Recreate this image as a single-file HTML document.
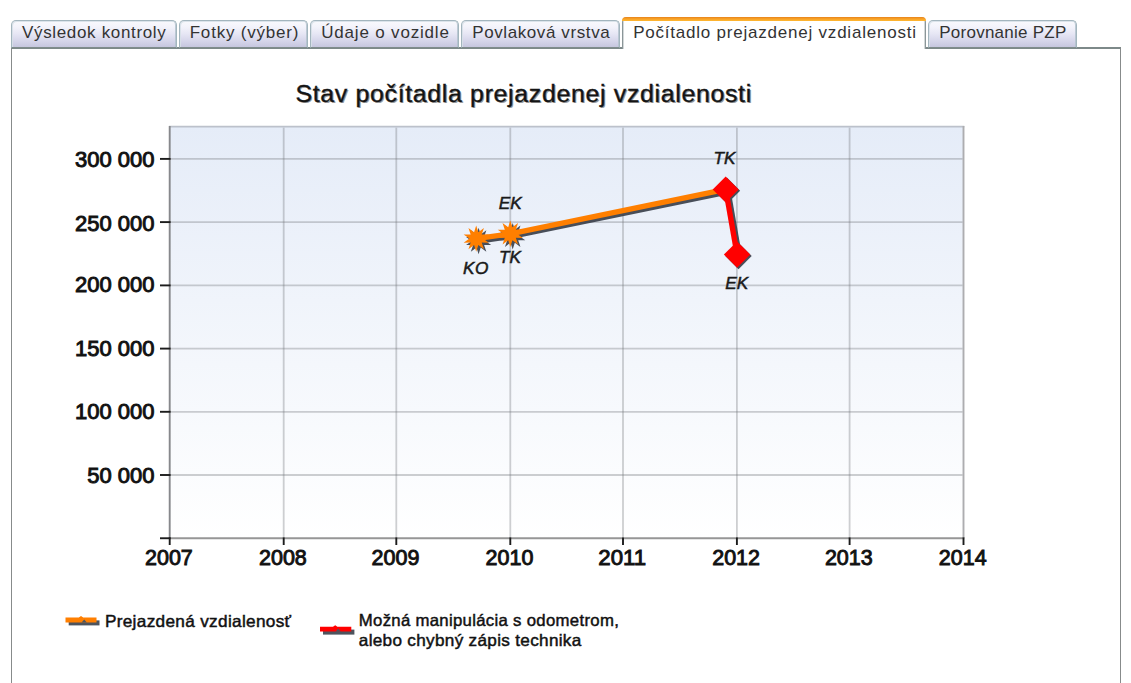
<!DOCTYPE html>
<html>
<head>
<meta charset="utf-8">
<title>Počítadlo prejazdenej vzdialenosti</title>
<style>
html,body{margin:0;padding:0;background:#fff;}
body{width:1131px;height:683px;position:relative;overflow:hidden;font-family:"Liberation Sans",sans-serif;}
.tab{position:absolute;top:20px;height:28px;box-sizing:border-box;border:1px solid #a3b5be;border-bottom:1px solid #7f8c8c;border-radius:5px 5px 0 0;
 background:linear-gradient(#f9f9fd 0px,#f3f3fb 6px,#e6e6f4 13px,#d5d5ea 20px,#c4c4dd 27px);
 box-shadow:inset 1px 1px 0 rgba(215,224,232,0.9), inset -1px 0 0 rgba(176,192,204,0.8);
 font-size:17px;color:#333;line-height:24px;white-space:nowrap;text-align:left;padding-left:10px;}
.tab.active{top:17px;height:32px;background:#fff;border:1px solid #8b9698;border-top:none;border-bottom:none;line-height:32px;color:#333;border-radius:5px 5px 0 0;box-shadow:inset 1px 0 0 rgba(200,206,208,0.8), inset -1px 0 0 rgba(200,206,208,0.8);}
.tab.active::before{content:"";position:absolute;left:-1px;right:-1px;top:0;height:4px;border-radius:5px 5px 0 0;background:linear-gradient(#e5831c,#f79d24 40%,#ffb932);}
.panel{position:absolute;left:11px;top:47px;width:1108px;height:700px;border:1px solid #878b8b;border-top:2px solid #7d8989;box-sizing:content-box;background:#fff;}
svg{position:absolute;left:0;top:0;}
</style>
</head>
<body>
<div class="panel"></div>
<div class="tab" style="left:11px;width:166px;letter-spacing:0.66px;padding-left:10px">Výsledok kontroly</div>
<div class="tab" style="left:179px;width:129px;letter-spacing:0.8px;padding-left:9.7px">Fotky (výber)</div>
<div class="tab" style="left:310px;width:149px;letter-spacing:0.82px;padding-left:10.2px">Údaje o vozidle</div>
<div class="tab" style="left:461px;width:159px;letter-spacing:0.6px;padding-left:10.2px">Povlaková vrstva</div>
<div class="tab active" style="left:622px;width:304px;letter-spacing:0.78px;padding-left:10.2px">Počítadlo prejazdenej vzdialenosti</div>
<div class="tab" style="left:928px;width:149px;letter-spacing:0.26px;padding-left:10.2px">Porovnanie PZP</div>

<svg width="1131" height="683" viewBox="0 0 1131 683">
 <defs>
  <linearGradient id="pg" x1="0" y1="0" x2="0" y2="1">
   <stop offset="0" stop-color="#e5ecf8"/>
   <stop offset="1" stop-color="#ffffff"/>
  </linearGradient>
 </defs>
 <!-- plot area -->
 <rect x="170" y="126" width="794" height="412" fill="url(#pg)"/>
 <!-- gridlines -->
 <g stroke="rgb(112,115,120)" stroke-opacity="0.34" stroke-width="1.8">
  <line x1="170.5" x2="962.7" y1="158.9" y2="158.9"/>
  <line x1="170.5" x2="962.7" y1="222.1" y2="222.1"/>
  <line x1="170.5" x2="962.7" y1="285.4" y2="285.4"/>
  <line x1="170.5" x2="962.7" y1="348.6" y2="348.6"/>
  <line x1="170.5" x2="962.7" y1="411.8" y2="411.8"/>
  <line x1="170.5" x2="962.7" y1="475.0" y2="475.0"/>
  <line y1="127.5" y2="537.4" x1="283.7" x2="283.7"/>
  <line y1="127.5" y2="537.4" x1="396.3" x2="396.3"/>
  <line y1="127.5" y2="537.4" x1="510.3" x2="510.3"/>
  <line y1="127.5" y2="537.4" x1="623.0" x2="623.0"/>
  <line y1="127.5" y2="537.4" x1="736.9" x2="736.9"/>
  <line y1="127.5" y2="537.4" x1="849.6" x2="849.6"/>
 </g>
 <!-- border -->
 <g stroke-width="1.9" fill="none">
  <line x1="169" x2="964.3" y1="126.6" y2="126.6" stroke="#bcc1cb"/>
  <line x1="963.5" x2="963.5" y1="126" y2="538" stroke="#adadb0"/>
  <line x1="169.7" x2="169.7" y1="126" y2="538" stroke="#87888c"/>
  <line x1="169" x2="964.3" y1="538.25" y2="538.25" stroke="#969696"/>
 </g>
 <!-- ticks -->
 <g stroke="#1c1c1c" stroke-width="1.9" stroke-linecap="butt">
  <line x1="160" x2="170.6" y1="158.9" y2="158.9"/>
  <line x1="160" x2="170.6" y1="222.1" y2="222.1"/>
  <line x1="160" x2="170.6" y1="285.4" y2="285.4"/>
  <line x1="160" x2="170.6" y1="348.6" y2="348.6"/>
  <line x1="160" x2="170.6" y1="411.8" y2="411.8"/>
  <line x1="160" x2="170.6" y1="475.0" y2="475.0"/>
  <line x1="160" x2="170.6" y1="538.25" y2="538.25"/>
  <line y1="537.4" y2="545" x1="169.7" x2="169.7"/>
  <line y1="537.4" y2="545" x1="283.7" x2="283.7"/>
  <line y1="537.4" y2="545" x1="396.3" x2="396.3"/>
  <line y1="537.4" y2="545" x1="510.3" x2="510.3"/>
  <line y1="537.4" y2="545" x1="623.0" x2="623.0"/>
  <line y1="537.4" y2="545" x1="736.9" x2="736.9"/>
  <line y1="537.4" y2="545" x1="849.6" x2="849.6"/>
  <line y1="537.4" y2="545" x1="963.5" x2="963.5"/>
 </g>
 <!-- title -->
 <g font-family="Liberation Sans, sans-serif">
  <text x="296.6" y="102.8" font-size="23" letter-spacing="0.6" textLength="456.5" lengthAdjust="spacingAndGlyphs" fill="#777" opacity="0.75">Stav počítadla prejazdenej vzdialenosti</text>
  <text x="295.4" y="101.6" font-size="23" letter-spacing="0.6" textLength="456.5" lengthAdjust="spacingAndGlyphs" fill="#141414" stroke="#141414" stroke-width="0.34">Stav počítadla prejazdenej vzdialenosti</text>
 </g>
 <!-- y labels -->
 <g font-family="Liberation Sans, sans-serif" font-size="22" fill="#111" stroke="#111" stroke-width="0.95" text-anchor="end">
  <text x="154.5" y="167.3">300 000</text>
  <text x="154.5" y="230.5">250 000</text>
  <text x="154.5" y="292.3">200 000</text>
  <text x="154.5" y="355.5">150 000</text>
  <text x="154.5" y="418.7">100 000</text>
  <text x="154.5" y="482.5">50 000</text>
 </g>
 <!-- x labels -->
 <g font-family="Liberation Sans, sans-serif" font-size="22.6" fill="#111" stroke="#111" stroke-width="0.95" text-anchor="middle">
  <text x="168.9" y="565" textLength="47.8" lengthAdjust="spacingAndGlyphs">2007</text>
  <text x="282.9" y="565" textLength="47.8" lengthAdjust="spacingAndGlyphs">2008</text>
  <text x="395.5" y="565" textLength="47.8" lengthAdjust="spacingAndGlyphs">2009</text>
  <text x="509.5" y="565" textLength="47.8" lengthAdjust="spacingAndGlyphs">2010</text>
  <text x="622.2" y="565" textLength="47.8" lengthAdjust="spacingAndGlyphs">2011</text>
  <text x="736.1" y="565" textLength="47.8" lengthAdjust="spacingAndGlyphs">2012</text>
  <text x="848.8" y="565" textLength="47.8" lengthAdjust="spacingAndGlyphs">2013</text>
  <text x="962.7" y="565" textLength="47.8" lengthAdjust="spacingAndGlyphs">2014</text>
 </g>
 <!-- series shadows -->
 <g fill="#3c424d" stroke="#3c424d" opacity="0.93">
  <g transform="translate(2.4,2.4)">
   <polyline points="476.2,238.6 510.3,233.8 725.7,189.4" fill="none" stroke-width="5.4"/>
   <polyline points="725.7,189.4 737.1,254.6" fill="none" stroke-width="5.4"/>
   <path transform="translate(476.2,238.6)" d="M0.00 -13.20 L2.10 -6.47 L7.76 -10.68 L5.50 -4.00 L12.55 -4.08 L6.80 0.00 L12.55 4.08 L5.50 4.00 L7.76 10.68 L2.10 6.47 L0.00 13.20 L-2.10 6.47 L-7.76 10.68 L-5.50 4.00 L-12.55 4.08 L-6.80 0.00 L-12.55 -4.08 L-5.50 -4.00 L-7.76 -10.68 L-2.10 -6.47Z" stroke="none"/>
   <path transform="translate(510.3,233.8)" d="M0.00 -13.20 L2.10 -6.47 L7.76 -10.68 L5.50 -4.00 L12.55 -4.08 L6.80 0.00 L12.55 4.08 L5.50 4.00 L7.76 10.68 L2.10 6.47 L0.00 13.20 L-2.10 6.47 L-7.76 10.68 L-5.50 4.00 L-12.55 4.08 L-6.80 0.00 L-12.55 -4.08 L-5.50 -4.00 L-7.76 -10.68 L-2.10 -6.47Z" stroke="none"/>
  </g>
  <g transform="translate(1.4,1.4)" stroke="none">
   <path d="M725.7 176.4 L738.7 189.4 L725.7 202.4 L712.7 189.4Z"/>
   <path d="M737.1 241.4 L750.3 254.6 L737.1 267.8 L723.9 254.6Z"/>
  </g>
 </g>
 <!-- series -->
 <polyline points="476.2,238.6 510.3,233.8 725.7,189.4" fill="none" stroke="#ff7f00" stroke-width="5.4"/>
 <polyline points="725.7,189.4 737.1,254.6" fill="none" stroke="#ff0000" stroke-width="5.4"/>
 <path transform="translate(476.2,238.6)" d="M0.00 -13.20 L2.10 -6.47 L7.76 -10.68 L5.50 -4.00 L12.55 -4.08 L6.80 0.00 L12.55 4.08 L5.50 4.00 L7.76 10.68 L2.10 6.47 L0.00 13.20 L-2.10 6.47 L-7.76 10.68 L-5.50 4.00 L-12.55 4.08 L-6.80 0.00 L-12.55 -4.08 L-5.50 -4.00 L-7.76 -10.68 L-2.10 -6.47Z" fill="#ff7f00"/>
 <path transform="translate(510.3,233.8)" d="M0.00 -13.20 L2.10 -6.47 L7.76 -10.68 L5.50 -4.00 L12.55 -4.08 L6.80 0.00 L12.55 4.08 L5.50 4.00 L7.76 10.68 L2.10 6.47 L0.00 13.20 L-2.10 6.47 L-7.76 10.68 L-5.50 4.00 L-12.55 4.08 L-6.80 0.00 L-12.55 -4.08 L-5.50 -4.00 L-7.76 -10.68 L-2.10 -6.47Z" fill="#ff7f00"/>
 <path d="M725.7 176.4 L738.7 189.4 L725.7 202.4 L712.7 189.4Z" fill="#ff0000"/>
 <path d="M737.1 241.4 L750.3 254.6 L737.1 267.8 L723.9 254.6Z" fill="#ff0000"/>
 <!-- point labels -->
 <g font-family="Liberation Sans, sans-serif" font-style="italic" font-size="17.2" fill="#1a1a1a" stroke="#1a1a1a" stroke-width="0.5" text-anchor="middle">
  <text x="510.2" y="209">EK</text>
  <text x="510" y="263">TK</text>
  <text x="476" y="274" letter-spacing="0.5">KO</text>
  <text x="724.5" y="164">TK</text>
  <text x="736.8" y="289.2">EK</text>
 </g>
 <!-- legend -->
 <g>
  <rect x="68.7" y="620.4" width="30.8" height="5" fill="#4d545e"/>
  <path d="M65.5 617.5 H78.8 L81 616.1 L83.2 617.5 H96.5 V622.5 H65.5Z" fill="#ff7f00"/>
  <path d="M81.6 622.6 L84.2 619.4 L86.8 622.6Z" fill="#4d545e"/>
  <rect x="323" y="629.6" width="31.4" height="5" fill="#4d545e"/>
  <path d="M320 626.8 H333 L335.2 625.2 L337.4 626.8 H351.3 V631.6 H320Z" fill="#ff0000"/>
  <path d="M335.6 631.7 L338.2 628.4 L340.8 631.7Z" fill="#4d545e"/>
 </g>
 <g font-family="Liberation Sans, sans-serif" font-size="16.5" fill="#111" stroke="#111" stroke-width="0.45" letter-spacing="0.3">
  <text x="104.9" y="626.7" textLength="186.5" lengthAdjust="spacingAndGlyphs">Prejazdená vzdialenosť</text>
  <text x="358.8" y="626.2" textLength="260.3" lengthAdjust="spacingAndGlyphs">Možná manipulácia s odometrom,</text>
  <text x="358.8" y="646" textLength="222.8" lengthAdjust="spacingAndGlyphs">alebo chybný zápis technika</text>
 </g>
</svg>
</body>
</html>
